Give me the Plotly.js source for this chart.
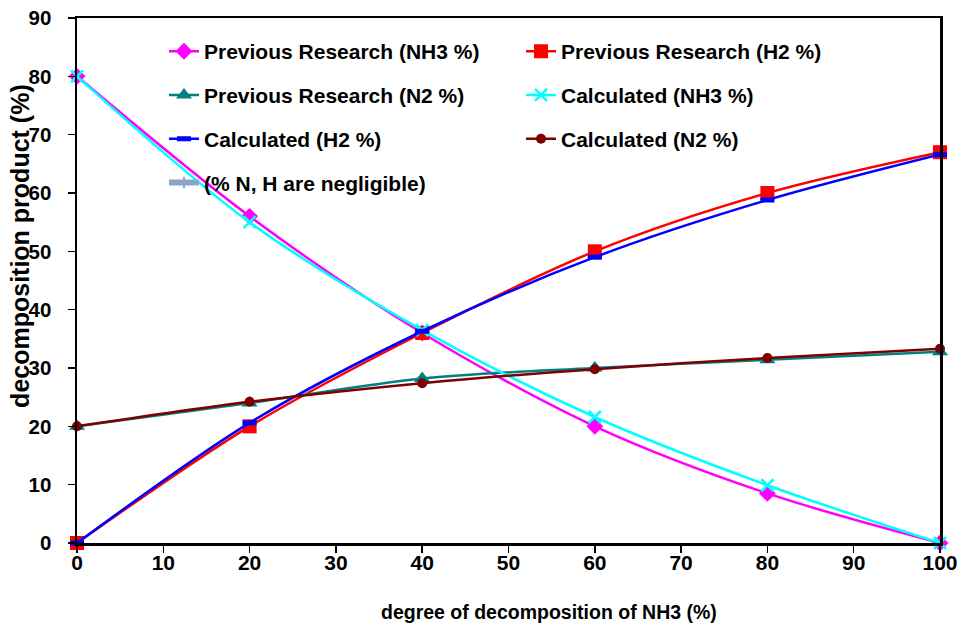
<!DOCTYPE html>
<html>
<head>
<meta charset="utf-8">
<script src="https://cdn.plot.ly/plotly-3.0.1.min.js"></script>
<style>html,body{margin:0;padding:0;background:#fff;}#chart{width:961px;height:628px;}</style>
</head>
<body>
<div id="chart"></div>
<script>
var degree = [0, 20, 40, 60, 80, 100];
var prevNH3 = [80, 56, 36, 20, 8.5, 0];
var prevH2 = [0, 20, 36, 50, 60, 67];
var prevN2 = [20, 24, 28.2, 30, 31.4, 32.8];
var calcNH3 = [80, 55, 36.5, 21.6, 9.9, 0];
var calcH2 = [0, 20.6, 36.3, 49, 58.8, 66.6];
var calcN2 = [20, 24.2, 27.4, 29.8, 31.7, 33.3];
var xTicks = [0, 10, 20, 30, 40, 50, 60, 70, 80, 90, 100];
var yTicks = [0, 10, 20, 30, 40, 50, 60, 70, 80, 90];
var xTitle = 'degree of decomposition of NH3 (%)';
var yTitle = 'decomposition product (%)';

function tr(name, y, color, marker, legend, group) {
  return {
    x: degree, y: y, name: name, type: 'scatter', mode: 'lines+markers',
    line: {color: color, width: 2.5, shape: 'spline', smoothing: 0.9},
    marker: marker, legend: legend, legendgroup: group, cliponaxis: false
  };
}
var traces = [
  tr('Previous Research (NH3 %)', prevNH3, '#FF00FF', {symbol: 'diamond', size: 13, color: '#FF00FF'}, 'legend', 'g1'),
  tr('Previous Research (H2 %)', prevH2, '#FF0000', {symbol: 'square', size: 14, color: '#FF0000'}, 'legend2', 'g2'),
  tr('Previous Research (N2 %)', prevN2, '#008080', {symbol: 'triangle-up', size: 14, color: '#008080'}, 'legend', 'g3'),
  tr('Calculated (NH3 %)', calcNH3, '#00FFFF', {symbol: 'x-thin-open', size: 12, line: {color: '#00FFFF', width: 2.5}}, 'legend2', 'g4'),
  tr('Calculated (H2 %)', calcH2, '#0000FF', {symbol: 'line-ew-open', size: 10, line: {color: '#0000FF', width: 5}}, 'legend', 'g5'),
  tr('Calculated (N2 %)', calcN2, '#800000', {symbol: 'circle', size: 10, color: '#800000'}, 'legend2', 'g6'),
  {x: [null], y: [null], name: '(% N, H are negligible)', type: 'scatter', mode: 'lines+markers',
   line: {color: '#8FA3C8', width: 6}, marker: {symbol: 'line-ns-open', size: 8, line: {color: '#8FA3C8', width: 2}},
   legend: 'legend', legendgroup: 'g7'}
];
var F = 'Liberation Sans, Arial, sans-serif';
var legFont = {family: F, size: 21, color: '#000', weight: 'bold'};
var layout = {
  width: 961, height: 628,
  margin: {l: 77, r: 21, t: 18, b: 85},
  paper_bgcolor: '#fff', plot_bgcolor: '#fff',
  font: {family: F, color: '#000'},
  showlegend: true,
  xaxis: {
    range: [0, 100], tickvals: xTicks, ticktext: xTicks.map(String),
    showline: true, linecolor: '#000', linewidth: 2.5, mirror: true,
    ticks: 'outside', ticklen: 7, tickwidth: 1.5, tickcolor: '#000',
    showgrid: false, zeroline: false, ticklabelstandoff: -8,
    tickfont: {size: 21, weight: 'bold', family: F}
  },
  yaxis: {
    range: [0, 90], tickvals: yTicks, ticktext: yTicks.map(String),
    showline: true, linecolor: '#000', linewidth: 2.5, mirror: true,
    ticks: 'outside', ticklen: 7, tickwidth: 1.5, tickcolor: '#000',
    showgrid: false, zeroline: false, ticklabelstandoff: 12,
    tickfont: {size: 20.5, weight: 'bold', family: F}
  },
  annotations: [
    {text: xTitle, xref: 'paper', yref: 'paper', x: 0.547, y: -0.131, xanchor: 'center', yanchor: 'middle',
     showarrow: false, font: {family: F, size: 19.5, weight: 'bold', color: '#000'}},
    {text: yTitle, xref: 'paper', yref: 'paper', x: -0.066, y: 0.566, xanchor: 'center', yanchor: 'middle',
     textangle: -90, showarrow: false, font: {family: F, size: 25, weight: 'bold', color: '#000'}}
  ],
  legend: {
    x: 0.1008, y: 0.975, xanchor: 'left', yanchor: 'top', bgcolor: 'rgba(0,0,0,0)',
    traceorder: 'grouped', tracegroupgap: 13.4, font: legFont
  },
  legend2: {
    x: 0.5145, y: 0.975, xanchor: 'left', yanchor: 'top', bgcolor: 'rgba(0,0,0,0)',
    traceorder: 'grouped', tracegroupgap: 13.4, font: legFont
  }
};
Plotly.newPlot('chart', traces, layout, {displayModeBar: false, staticPlot: true});
</script>
</body>
</html>
